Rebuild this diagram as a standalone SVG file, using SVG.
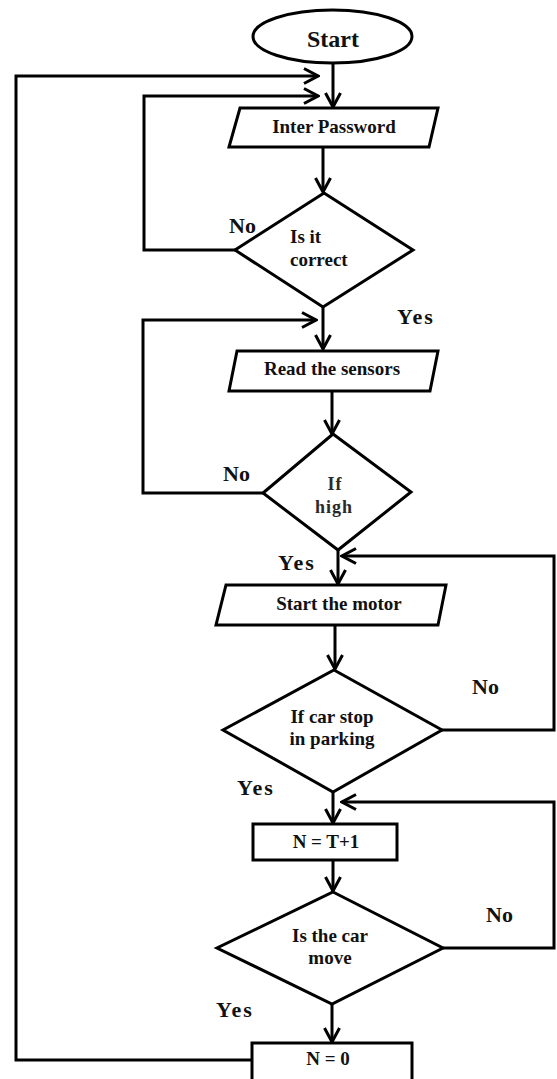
<svg xmlns="http://www.w3.org/2000/svg" width="557" height="1079" viewBox="0 0 557 1079">
<style>
.shape{fill:#fff;stroke:#000;stroke-width:3;stroke-linejoin:miter}
.conn{fill:none;stroke:#000;stroke-width:3}
.t{font-family:"Liberation Serif",serif;font-weight:bold;font-size:19px;fill:#111;text-anchor:middle}
.lt{font-family:"Liberation Serif",serif;font-weight:bold;font-size:18px;fill:#2a2a2a;text-anchor:middle;letter-spacing:1px}
.lbl{font-family:"Liberation Serif",serif;font-weight:bold;font-size:22px;fill:#111}
.yes{letter-spacing:2px}
</style>
<defs>
<marker id="arr" viewBox="0 0 18 18" refX="16" refY="9" markerWidth="18" markerHeight="18" markerUnits="userSpaceOnUse" orient="auto">
<path d="M2,1.5 L16,9 L2,16.5" fill="none" stroke="#000" stroke-width="3"/>
</marker>
</defs>
<rect width="557" height="1079" fill="#fff"/>
<g id="connectors">
<path class="conn" d="M333,63 V107" marker-end="url(#arr)"/>
<path class="conn" d="M252,1060 H16 V76 H318" marker-end="url(#arr)"/>
<path class="conn" d="M235,250 H144 V96 H318" marker-end="url(#arr)"/>
<path class="conn" d="M323,147 V192" marker-end="url(#arr)"/>
<path class="conn" d="M323,307 V349" marker-end="url(#arr)"/>
<path class="conn" d="M263,493 H143 V320 H316" marker-end="url(#arr)"/>
<path class="conn" d="M332,391 V434" marker-end="url(#arr)"/>
<path class="conn" d="M338,550 V584" marker-end="url(#arr)"/>
<path class="conn" d="M442,730 H554 V556 H342" marker-end="url(#arr)"/>
<path class="conn" d="M335,625 V669" marker-end="url(#arr)"/>
<path class="conn" d="M333,792 V823" marker-end="url(#arr)"/>
<path class="conn" d="M443,948 H554 V802 H342" marker-end="url(#arr)"/>
<path class="conn" d="M333,860 V891" marker-end="url(#arr)"/>
<path class="conn" d="M332,1004 V1042" marker-end="url(#arr)"/>
</g>
<g id="start">
<ellipse class="shape" cx="332.5" cy="36.5" rx="79.5" ry="26.5"/>
<text class="t" x="333" y="47" style="font-size:24px">Start</text>
</g>
<g id="inter-password">
<polygon class="shape" points="240,108 438,108 429,147 229,147"/>
<text class="t" x="334" y="133">Inter Password</text>
</g>
<g id="is-it-correct">
<polygon class="shape" points="324,193 413,250 323,307 235,250"/>
<text class="t" x="290" y="243" style="text-anchor:start">Is it</text>
<text class="t" x="290" y="266" style="text-anchor:start">correct</text>
</g>
<g id="read-sensors">
<polygon class="shape" points="237,351 438,351 430,391 229,391"/>
<text class="t" x="332" y="375">Read the sensors</text>
</g>
<g id="if-high">
<polygon class="shape" points="333,434 411,492 338,550 263,493"/>
<text class="lt" x="335" y="490">If</text>
<text class="lt" x="334" y="513">high</text>
</g>
<g id="start-motor">
<polygon class="shape" points="226,585 446,585 438,625 216,625"/>
<text class="t" x="339" y="610">Start the motor</text>
</g>
<g id="car-stop">
<polygon class="shape" points="334,670 442,730 333,792 223,730"/>
<text class="t" x="332" y="723">If car stop</text>
<text class="t" x="332" y="745">in parking</text>
</g>
<g id="n-t1">
<rect class="shape" x="253" y="824" width="144" height="36"/>
<text class="t" x="326" y="848">N = T+1</text>
</g>
<g id="car-move">
<polygon class="shape" points="333,892 443,948 332,1004 217,948"/>
<text class="t" x="330" y="942">Is the car</text>
<text class="t" x="330" y="964">move</text>
</g>
<g id="n-0">
<rect class="shape" x="252" y="1043" width="160" height="40"/>
<text class="t" x="328" y="1065">N = 0</text>
</g>
<g id="labels">
<text class="lbl" x="229" y="233">No</text>
<text class="lbl yes" x="397" y="324">Yes</text>
<text class="lbl" x="223" y="481">No</text>
<text class="lbl yes" x="278" y="570">Yes</text>
<text class="lbl" x="472" y="694">No</text>
<text class="lbl yes" x="237" y="795">Yes</text>
<text class="lbl" x="486" y="922">No</text>
<text class="lbl yes" x="216" y="1017">Yes</text>
</g>
</svg>
